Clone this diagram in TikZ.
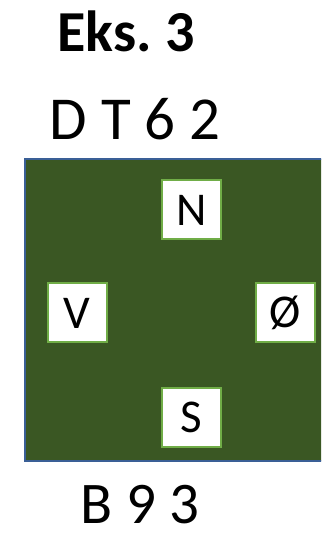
\documentclass[tikz,border=0pt]{standalone}
\usepackage{fontspec}
\setmainfont{Carlito}
\definecolor{fieldgreen}{HTML}{3A5723}
\definecolor{fieldblue}{HTML}{3A5F96}
\definecolor{boxgreen}{HTML}{70AD47}
\begin{document}
\begin{tikzpicture}[x=1pt,y=1pt,
  dirbox/.style={draw=boxgreen,line width=2pt,fill=white,minimum width=59pt,minimum height=59pt,inner sep=0pt,font=\fontsize{47}{47}\selectfont},
  lbl/.style={anchor=base,inner sep=0pt,font=\fontsize{61}{61}\selectfont}]
\useasboundingbox (0,0) rectangle (321,534);
\clip (0,0) rectangle (321,534);
\node[draw=fieldblue,line width=2pt,fill=fieldgreen,anchor=north west,minimum width=310pt,minimum height=302pt,inner sep=0pt] (field) at (24,376) {};
\node[dirbox] (n) at (191.5,324) {N};
\node[dirbox] (v) at (77,221) {V};
\node[dirbox] (o) at (285.5,221) {Ø};
\node[dirbox] (s) at (191.5,116.5) {S};
\node[lbl,font=\fontsize{58}{58}\selectfont\bfseries] (title) at (126,482) {Eks.\hspace{-4pt} 3};
\node[lbl] (top) at (135,394) {D T 6 2};
\node[lbl,font=\fontsize{59}{59}\selectfont] (bottom) at (140,10) {B 9 3};
\end{tikzpicture}
\end{document}
